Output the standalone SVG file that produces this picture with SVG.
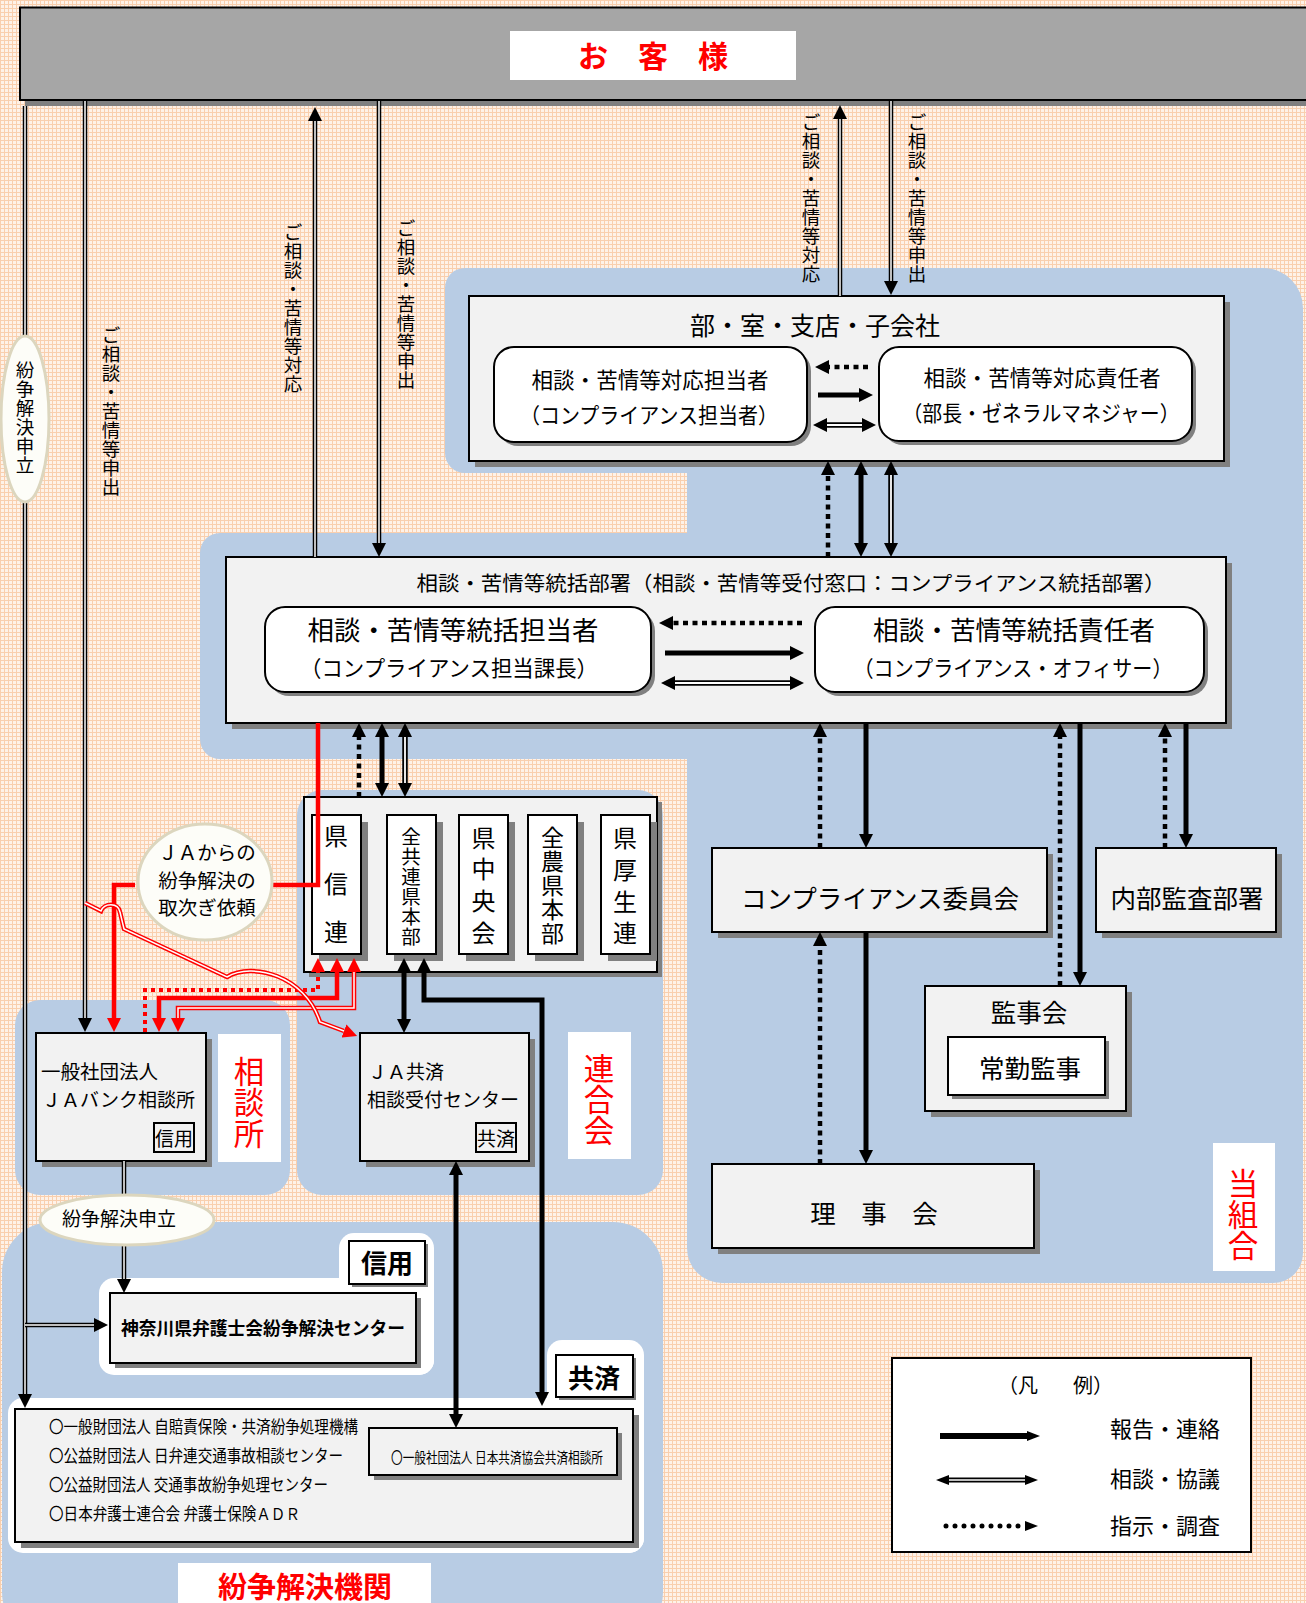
<svg xmlns="http://www.w3.org/2000/svg" width="1306" height="1603" viewBox="0 0 1306 1603">
<defs>
<style>
.t{font-family:"Noto Sans CJK JP","Noto Sans CJK SC",sans-serif;dominant-baseline:central;fill:#000}
.c{text-anchor:middle}
.b{font-weight:bold}
.r{fill:#f00}
.box{fill:#F2F2F2;stroke:#000;stroke-width:2}
.wbox{fill:#fff;stroke:#000;stroke-width:2}
.sh{fill:#808080}
.blue{fill:#B8CCE4}
.wh{fill:#fff}
.k5{fill:none;stroke:#000;stroke-width:5}
.d5{fill:none;stroke:#000;stroke-width:5.5}
.d4{fill:none;stroke:#000;stroke-width:4.5}
.wi{fill:none;stroke:#fff;stroke-width:1.8}
.wi2{fill:none;stroke:#fff;stroke-width:1.5}
.dt{fill:none;stroke:#000;stroke-width:4.5;stroke-dasharray:5 4.5}
.r4{fill:none;stroke:#f00;stroke-width:4.5}
.rd{fill:none;stroke:#f00;stroke-width:4.5}
.rdt{fill:none;stroke:#f00;stroke-width:4;stroke-dasharray:4 4}
.ell{fill:#FDFDF8;stroke:#DCD6BE;stroke-width:3}
</style>
<pattern id="grid" width="4" height="4" patternUnits="userSpaceOnUse">
<rect width="4" height="4" fill="#FEF2E8"/>
<path d="M0,0.5 H4 M0.5,0 V4" stroke="#F9CFAE" stroke-width="1"/>
</pattern>
<marker id="ah" viewBox="0 0 14 14" refX="0" refY="7" markerWidth="14" markerHeight="14" markerUnits="userSpaceOnUse" orient="auto-start-reverse"><path d="M0,0 L14,7 L0,14 z" fill="#000"/></marker>
<marker id="ahr" viewBox="0 0 14 14" refX="0" refY="7" markerWidth="14" markerHeight="14" markerUnits="userSpaceOnUse" orient="auto-start-reverse"><path d="M0,0 L14,7 L0,14 z" fill="#f00"/></marker>
<marker id="ahs" viewBox="0 0 13 10" refX="0" refY="5" markerWidth="13" markerHeight="10" markerUnits="userSpaceOnUse" orient="auto-start-reverse"><path d="M0,0 L13,5 L0,10 z" fill="#000"/></marker>
</defs>

<rect width="1306" height="1603" fill="url(#grid)"/>

<g id="regions">
<path class="blue" d="M465,268 H1263 A40,40 0 0 1 1303,308 V1253 A30,30 0 0 1 1273,1283 H722 A35,35 0 0 1 687,1248 V759 H220 A20,20 0 0 1 200,739 V553 A20,20 0 0 1 220,533 H687 V473 H465 A20,20 0 0 1 445,453 V288 A20,20 0 0 1 465,268 Z"/>
<rect class="blue" x="297" y="790" width="366" height="405" rx="25"/>
<rect class="blue" x="15" y="1000" width="275" height="195" rx="25"/>
<rect class="blue" x="2" y="1222" width="661" height="420" rx="50"/>
<rect class="wh" x="339" y="1233" width="95" height="142" rx="15"/>
<rect class="wh" x="99" y="1278" width="335" height="97" rx="15"/>
<rect class="wh" x="547" y="1340" width="97" height="213" rx="15"/>
<rect class="wh" x="8" y="1398" width="636" height="155" rx="15"/>
</g>

<g id="customer">
<rect class="sh" x="25" y="13" width="1295" height="93"/>
<rect x="20" y="7.5" width="1300" height="92.5" fill="#A6A6A6" stroke="#000" stroke-width="2"/>
<rect class="wh" x="510" y="31" width="286" height="49"/>
<text class="t c b r" x="653" y="54" font-size="30">お　客　様</text>
</g>

<g id="bu-shitsu">
<rect class="sh" x="475" y="302" width="755" height="165"/>
<rect class="box" x="469" y="296" width="755" height="165"/>
<text class="t c" x="815" y="324" font-size="25">部・室・支店・子会社</text>
<rect class="sh" x="498" y="351" width="313" height="95" rx="20"/>
<rect class="wbox" x="494" y="347" width="313" height="95" rx="20"/>
<text class="t c" x="650" y="378" font-size="21.5" textLength="237" lengthAdjust="spacingAndGlyphs">相談・苦情等対応担当者</text>
<text class="t c" x="649" y="413" font-size="21.5" textLength="258" lengthAdjust="spacingAndGlyphs">（コンプライアンス担当者）</text>
<rect class="sh" x="883" y="351" width="313" height="94" rx="20"/>
<rect class="wbox" x="879" y="347" width="313" height="94" rx="20"/>
<text class="t c" x="1042" y="376" font-size="21.5" textLength="237" lengthAdjust="spacingAndGlyphs">相談・苦情等対応責任者</text>
<text class="t c" x="1041" y="411" font-size="21.5" textLength="277" lengthAdjust="spacingAndGlyphs">（部長・ゼネラルマネジャー）</text>
</g>

<g id="tokatsu">
<rect class="sh" x="232" y="563" width="1000" height="166"/>
<rect class="box" x="226" y="557" width="1000" height="166"/>
<text class="t c" x="791" y="582" font-size="20.5" textLength="749" lengthAdjust="spacingAndGlyphs">相談・苦情等統括部署（相談・苦情等受付窓口：コンプライアンス統括部署）</text>
<rect class="sh" x="269" y="611" width="386" height="85" rx="20"/>
<rect class="wbox" x="265" y="607" width="386" height="85" rx="20"/>
<text class="t c" x="453" y="628" font-size="26" textLength="291" lengthAdjust="spacingAndGlyphs">相談・苦情等統括担当者</text>
<text class="t c" x="449" y="666" font-size="22" textLength="298" lengthAdjust="spacingAndGlyphs">（コンプライアンス担当課長）</text>
<rect class="sh" x="819" y="611" width="389" height="85" rx="20"/>
<rect class="wbox" x="815" y="607" width="389" height="85" rx="20"/>
<text class="t c" x="1014" y="628" font-size="26" textLength="282" lengthAdjust="spacingAndGlyphs">相談・苦情等統括責任者</text>
<text class="t c" x="1013" y="666" font-size="22" textLength="319" lengthAdjust="spacingAndGlyphs">（コンプライアンス・オフィサー）</text>
</g>

<g id="rengokai">
<rect class="sh" x="309" y="802" width="353" height="175"/>
<rect class="box" x="304" y="797" width="353" height="175"/>
<rect class="sh" x="319" y="822" width="49" height="139"/>
<rect class="wbox" x="312" y="815" width="49" height="139"/>
<rect class="sh" x="394" y="822" width="49" height="139"/>
<rect class="wbox" x="387" y="815" width="49" height="139"/>
<rect class="sh" x="466" y="822" width="49" height="139"/>
<rect class="wbox" x="459" y="815" width="49" height="139"/>
<rect class="sh" x="535" y="822" width="49" height="139"/>
<rect class="wbox" x="528" y="815" width="49" height="139"/>
<rect class="sh" x="608" y="822" width="49" height="139"/>
<rect class="wbox" x="601" y="815" width="49" height="139"/>
<text class="t c" font-size="24"><tspan x="336" y="834">県</tspan><tspan x="336" y="882">信</tspan><tspan x="336" y="930">連</tspan></text>
<text class="t c" font-size="19.5"><tspan x="411" y="835">全</tspan><tspan x="411" y="855">共</tspan><tspan x="411" y="875">連</tspan><tspan x="411" y="895">県</tspan><tspan x="411" y="915">本</tspan><tspan x="411" y="935">部</tspan></text>
<text class="t c" font-size="24"><tspan x="483.5" y="836">県</tspan><tspan x="483.5" y="867">中</tspan><tspan x="483.5" y="899">央</tspan><tspan x="483.5" y="931">会</tspan></text>
<text class="t c" font-size="23"><tspan x="552.5" y="836">全</tspan><tspan x="552.5" y="860">農</tspan><tspan x="552.5" y="884">県</tspan><tspan x="552.5" y="908">本</tspan><tspan x="552.5" y="932">部</tspan></text>
<text class="t c" font-size="24"><tspan x="625" y="836">県</tspan><tspan x="625" y="868">厚</tspan><tspan x="625" y="900">生</tspan><tspan x="625" y="931">連</tspan></text>
</g>

<g id="jabank">
<rect class="sh" x="42" y="1039" width="170" height="128"/>
<rect class="box" x="36" y="1033" width="170" height="128"/>
<text class="t" x="41" y="1070" font-size="19.5">一般社団法人</text>
<text class="t" x="42" y="1098" font-size="19">ＪＡバンク相談所</text>
<rect class="box" x="154" y="1123" width="40" height="29"/>
<text class="t c" x="174" y="1137" font-size="19">信用</text>
</g>

<g id="jakyosai">
<rect class="sh" x="366" y="1039" width="169" height="128"/>
<rect class="box" x="360" y="1033" width="169" height="128"/>
<text class="t" x="368" y="1070" font-size="19">ＪＡ共済</text>
<text class="t" x="367" y="1098" font-size="19">相談受付センター</text>
<rect class="box" x="476" y="1123" width="40" height="29"/>
<text class="t c" x="496" y="1137" font-size="19">共済</text>
</g>

<g id="labels">
<rect class="wh" x="218" y="1034" width="63" height="128"/>
<text class="t c r" font-size="30.5"><tspan x="249" y="1070">相</tspan><tspan x="249" y="1101">談</tspan><tspan x="249" y="1132">所</tspan></text>
<rect class="wh" x="568" y="1032" width="63" height="127"/>
<text class="t c r" font-size="30.5"><tspan x="599" y="1067">連</tspan><tspan x="599" y="1098">合</tspan><tspan x="599" y="1129">会</tspan></text>
<rect class="wh" x="1213" y="1143" width="62" height="128"/>
<text class="t c r" font-size="30.5"><tspan x="1243" y="1182">当</tspan><tspan x="1243" y="1213">組</tspan><tspan x="1243" y="1244">合</tspan></text>
<rect class="wh" x="178" y="1563" width="253" height="40"/>
<text class="t c r b" x="305" y="1585" font-size="29">紛争解決機関</text>
</g>

<g id="compliance-committee">
<rect class="sh" x="718" y="854" width="335" height="84"/>
<rect class="box" x="712" y="848" width="335" height="84"/>
<text class="t c" x="880" y="896" font-size="25.5">コンプライアンス委員会</text>
</g>
<g id="internal-audit">
<rect class="sh" x="1102" y="854" width="180" height="84"/>
<rect class="box" x="1096" y="848" width="180" height="84"/>
<text class="t c" x="1187" y="896" font-size="25.5">内部監査部署</text>
</g>
<g id="kanjikai">
<rect class="sh" x="931" y="992" width="201" height="125"/>
<rect class="box" x="925" y="986" width="201" height="125"/>
<text class="t c" x="1029" y="1010" font-size="25.5">監事会</text>
<rect class="sh" x="952" y="1041" width="157" height="58"/>
<rect class="wbox" x="948" y="1037" width="157" height="58"/>
<text class="t c" x="1030" y="1066" font-size="25.5">常勤監事</text>
</g>
<g id="rijikai">
<rect class="sh" x="718" y="1170" width="322" height="84"/>
<rect class="box" x="712" y="1164" width="322" height="84"/>
<text class="t c" x="874" y="1211" font-size="25.5">理　事　会</text>
</g>

<g id="kanagawa">
<rect class="sh" x="352" y="1244" width="76" height="43"/>
<rect class="wbox" x="349" y="1241" width="76" height="43"/>
<text class="t c b" x="387" y="1261" font-size="26">信用</text>
<rect class="sh" x="115" y="1298" width="306" height="70"/>
<rect class="box" x="110" y="1293" width="306" height="70"/>
<text class="t c b" x="263" y="1327" font-size="18" textLength="284" lengthAdjust="spacingAndGlyphs">神奈川県弁護士会紛争解決センター</text>
</g>

<g id="adr">
<rect class="sh" x="559" y="1358" width="77" height="42"/>
<rect class="wbox" x="556" y="1355" width="77" height="42"/>
<text class="t c b" x="594" y="1376" font-size="26">共済</text>
<rect class="sh" x="21" y="1415" width="618" height="133"/>
<rect class="box" x="15" y="1409" width="618" height="133"/>
<text class="t" x="49" y="1426" font-size="16.5" textLength="309" lengthAdjust="spacingAndGlyphs">〇一般財団法人 自賠責保険・共済紛争処理機構</text>
<text class="t" x="49" y="1455" font-size="16.5" textLength="294" lengthAdjust="spacingAndGlyphs">〇公益財団法人 日弁連交通事故相談センター</text>
<text class="t" x="49" y="1484" font-size="16.5" textLength="279" lengthAdjust="spacingAndGlyphs">〇公益財団法人 交通事故紛争処理センター</text>
<text class="t" x="49" y="1513" font-size="16.5" textLength="251" lengthAdjust="spacingAndGlyphs">〇日本弁護士連合会 弁護士保険ＡＤＲ</text>
<rect class="sh" x="374" y="1433" width="248" height="47"/>
<rect class="box" x="369" y="1428" width="248" height="47"/>
<text class="t" x="391" y="1456" font-size="14.5" textLength="212" lengthAdjust="spacingAndGlyphs">〇一般社団法人 日本共済協会共済相談所</text>
</g>

<g id="legend">
<rect x="892" y="1358" width="359" height="194" fill="#fff" stroke="#000" stroke-width="2"/>
<text class="t" x="998" y="1384" font-size="20">（凡</text>
<text class="t" x="1073" y="1384" font-size="20">例）</text>
<path d="M940,1436 H1027" stroke="#000" stroke-width="6" marker-end="url(#ahs)"/>
<path d="M949,1480 H1025" stroke="#000" stroke-width="5" marker-start="url(#ahs)" marker-end="url(#ahs)"/>
<path d="M949,1480 H1025" class="wi2"/>
<path d="M946,1526 H1025" stroke="#000" stroke-width="5" stroke-linecap="round" stroke-dasharray="0 9" marker-end="url(#ahs)"/>
<text class="t" x="1110" y="1427" font-size="22">報告・連絡</text>
<text class="t" x="1110" y="1477" font-size="22">相談・協議</text>
<text class="t" x="1110" y="1524" font-size="22">指示・調査</text>
</g>

<g id="connectors">
<path class="d4" d="M25,106 V1394" marker-end="url(#ah)"/><path class="wi2" d="M25,106 V1394"/>
<path class="d4" d="M85,101 V1018" marker-end="url(#ah)"/><path class="wi2" d="M85,101 V1018"/>
<path class="d4" d="M315,557 V121" marker-end="url(#ah)"/><path class="wi2" d="M315,557 V121"/>
<path class="d4" d="M379,101 V543" marker-end="url(#ah)"/><path class="wi2" d="M379,101 V543"/>
<path class="d4" d="M840,296 V119" marker-end="url(#ah)"/><path class="wi2" d="M840,296 V119"/>
<path class="d4" d="M891,101 V281" marker-end="url(#ah)"/><path class="wi2" d="M891,101 V281"/>
<path class="d4" d="M25,1325 H94" marker-end="url(#ah)"/><path class="wi2" d="M25,1325 H94"/>
<path class="d4" d="M124,1161 V1279" marker-end="url(#ah)"/><path class="wi2" d="M124,1161 V1279"/>
<path class="dt" d="M868,367 H829" marker-end="url(#ah)"/>
<path class="k5" d="M818,395 H859" marker-end="url(#ah)"/>
<path class="d5" d="M827,425 H862" marker-start="url(#ah)" marker-end="url(#ah)"/><path class="wi" d="M827,425 H862"/>
<path class="dt" d="M828,557 V475" marker-end="url(#ah)"/>
<path class="k5" d="M861,475 V543" marker-start="url(#ah)" marker-end="url(#ah)"/>
<path class="d5" d="M891,475 V543" marker-start="url(#ah)" marker-end="url(#ah)"/><path class="wi" d="M891,475 V543"/>
<path class="dt" d="M802,623 H673" marker-end="url(#ah)"/>
<path class="k5" d="M665,653 H790" marker-end="url(#ah)"/>
<path class="d5" d="M675,683 H790" marker-start="url(#ah)" marker-end="url(#ah)"/><path class="wi" d="M675,683 H790"/>
<path class="dt" d="M359,797 V737" marker-end="url(#ah)"/>
<path class="k5" d="M382,737 V783" marker-start="url(#ah)" marker-end="url(#ah)"/>
<path class="d5" d="M405,737 V783" marker-start="url(#ah)" marker-end="url(#ah)"/><path class="wi" d="M405,737 V783"/>
<path class="r4" d="M318,723 V885 H273"/>
<path class="r4" d="M135,885 H114 V1018" marker-end="url(#ahr)"/>
<path class="rdt" d="M145,1032 V990 H318 V972" marker-end="url(#ahr)"/>
<path class="r4" d="M337,972 V998 H159 V1018" marker-start="url(#ahr)" marker-end="url(#ahr)"/>
<path class="rd" d="M354,972 V1008 H178 V1018" marker-start="url(#ahr)" marker-end="url(#ahr)"/><path class="wi2" d="M354,972 V1008 H178 V1018"/>
<path class="rd" d="M85,903 L101,911 C104,903 118,902 120,912 L124,929 L227,977 C252,962 305,975 320,1022 L344,1031" marker-end="url(#ahr)"/><path class="wi2" d="M85,903 L101,911 C104,903 118,902 120,912 L124,929 L227,977 C252,962 305,975 320,1022 L344,1031"/>
<path class="k5" d="M404,972 V1019" marker-start="url(#ah)" marker-end="url(#ah)"/>
<path class="k5" d="M424,972 V1000 H542 V1392" marker-start="url(#ah)" marker-end="url(#ah)"/>
<path class="k5" d="M456,1175 V1414" marker-start="url(#ah)" marker-end="url(#ah)"/>
<path class="dt" d="M820,848 V737" marker-end="url(#ah)"/>
<path class="k5" d="M866,723 V834" marker-end="url(#ah)"/>
<path class="dt" d="M820,1164 V946" marker-end="url(#ah)"/>
<path class="k5" d="M866,932 V1150" marker-end="url(#ah)"/>
<path class="dt" d="M1060,986 V737" marker-end="url(#ah)"/>
<path class="k5" d="M1080,723 V972" marker-end="url(#ah)"/>
<path class="dt" d="M1165,848 V737" marker-end="url(#ah)"/>
<path class="k5" d="M1186,723 V834" marker-end="url(#ah)"/>
</g>

<g id="connector-labels">
<text class="t c" font-size="18.5"><tspan x="111" y="334">ご</tspan><tspan x="111" y="353">相</tspan><tspan x="111" y="372">談</tspan><tspan x="111" y="391">・</tspan><tspan x="111" y="410">苦</tspan><tspan x="111" y="429">情</tspan><tspan x="111" y="448">等</tspan><tspan x="111" y="467">申</tspan><tspan x="111" y="486">出</tspan></text>
<text class="t c" font-size="18.5"><tspan x="293" y="231">ご</tspan><tspan x="293" y="250">相</tspan><tspan x="293" y="269">談</tspan><tspan x="293" y="288">・</tspan><tspan x="293" y="307">苦</tspan><tspan x="293" y="326">情</tspan><tspan x="293" y="345">等</tspan><tspan x="293" y="364">対</tspan><tspan x="293" y="383">応</tspan></text>
<text class="t c" font-size="18.5"><tspan x="406" y="227">ご</tspan><tspan x="406" y="246">相</tspan><tspan x="406" y="265">談</tspan><tspan x="406" y="284">・</tspan><tspan x="406" y="303">苦</tspan><tspan x="406" y="322">情</tspan><tspan x="406" y="341">等</tspan><tspan x="406" y="360">申</tspan><tspan x="406" y="379">出</tspan></text>
<text class="t c" font-size="18.5"><tspan x="811" y="121">ご</tspan><tspan x="811" y="140">相</tspan><tspan x="811" y="159">談</tspan><tspan x="811" y="178">・</tspan><tspan x="811" y="197">苦</tspan><tspan x="811" y="216">情</tspan><tspan x="811" y="235">等</tspan><tspan x="811" y="254">対</tspan><tspan x="811" y="273">応</tspan></text>
<text class="t c" font-size="18.5"><tspan x="917" y="121">ご</tspan><tspan x="917" y="140">相</tspan><tspan x="917" y="159">談</tspan><tspan x="917" y="178">・</tspan><tspan x="917" y="197">苦</tspan><tspan x="917" y="216">情</tspan><tspan x="917" y="235">等</tspan><tspan x="917" y="254">申</tspan><tspan x="917" y="273">出</tspan></text>
</g>

<g id="ellipse-left">
<ellipse class="ell" cx="25" cy="419" rx="24" ry="83"/>
<text class="t c" font-size="18.5"><tspan x="25" y="369">紛</tspan><tspan x="25" y="388">争</tspan><tspan x="25" y="407">解</tspan><tspan x="25" y="426">決</tspan><tspan x="25" y="445">申</tspan><tspan x="25" y="464">立</tspan></text>
</g>
<g id="ellipse-ja">
<ellipse class="ell" cx="205" cy="882" rx="67" ry="58"/>
<text class="t c" x="207" y="851" font-size="19.5">ＪＡからの</text>
<text class="t c" x="207" y="879" font-size="19.5">紛争解決の</text>
<text class="t c" x="207" y="906" font-size="19.5">取次ぎ依頼</text>
</g>
<g id="ellipse-mid">
<ellipse class="ell" cx="127" cy="1220" rx="87" ry="25"/>
<text class="t c" x="119" y="1217" font-size="19">紛争解決申立</text>
</g>
</svg>
